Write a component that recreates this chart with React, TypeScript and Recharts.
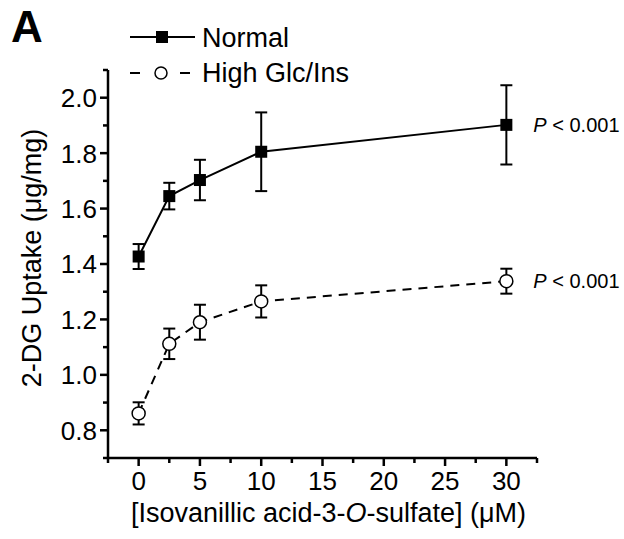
import React from 'react';
import { ComposedChart, Line, XAxis, YAxis, ErrorBar } from 'recharts';

// 2-DG uptake vs concentration
const concentrations = [0, 2.5, 5, 10, 30];
const normalUptake = [1.427, 1.645, 1.703, 1.805, 1.902];
const normalErr = [0.045, 0.048, 0.073, 0.142, 0.143];
const highUptake = [0.861, 1.112, 1.19, 1.265, 1.338];
const highErr = [0.04, 0.055, 0.063, 0.058, 0.045];

const seriesNames = ['Normal', 'High Glc/Ins'];
const pValues = ['< 0.001', '< 0.001'];

const xTicks = [-2.5, 0, 2.5, 5, 7.5, 10, 12.5, 15, 17.5, 20, 22.5, 25, 27.5, 30, 32.5];
const yTicks = [0.7, 0.8, 0.9, 1.0, 1.1, 1.2, 1.3, 1.4, 1.5, 1.6, 1.7, 1.8, 1.9, 2.0, 2.1];
const xDomain = [-2.5, 32.5];
const yDomain = [0.7, 2.1];

const data = concentrations.map((c, i) => ({
  x: c,
  normal: normalUptake[i],
  normalErr: normalErr[i],
  high: highUptake[i],
  highErr: highErr[i],
}));

const FONT = '"Liberation Sans", Arial, sans-serif';

const YTick = ({ x, y, payload }: any) => {
  const v = payload.value;
  const major = Math.round(v * 10) % 2 === 0;
  return (
    <g>
      <line x1={x - (major ? 8 : 5)} x2={x} y1={y} y2={y} stroke="#000" strokeWidth={2.5} />
      {major && (
        <text x={x - 11} y={y} dy="0.36em" textAnchor="end" fontSize={26} fontFamily={FONT} fill="#000">
          {v.toFixed(1)}
        </text>
      )}
    </g>
  );
};

const XTick = ({ x, y, payload }: any) => {
  const v = payload.value;
  const major = v % 5 === 0;
  return (
    <g>
      <line x1={x} x2={x} y1={y} y2={y + (major ? 8 : 5)} stroke="#000" strokeWidth={2.5} />
      {major && (
        <text x={x} y={y + 32} textAnchor="middle" fontSize={26} fontFamily={FONT} fill="#000">
          {v}
        </text>
      )}
    </g>
  );
};

const YTitle = ({ viewBox }: any) => {
  const cx = viewBox.x - 7;
  const cy = viewBox.y + viewBox.height / 2 - 6;
  return (
    <text x={cx} y={cy} transform={`rotate(-90 ${cx} ${cy})`} textAnchor="middle" fontSize={27} fontFamily={FONT} fill="#000">
      2-DG Uptake (μg/mg)
    </text>
  );
};

const XTitle = ({ viewBox }: any) => (
  <text x={viewBox.x + viewBox.width / 2 + 6} y={viewBox.y + 64} textAnchor="middle" fontSize={27} fontFamily={FONT} fill="#000">
    [Isovanillic acid-3-<tspan fontStyle="italic">O</tspan>-sulfate] (μM)
  </text>
);

const SquareDot = (props: any) => (
  <rect key={`sq-${props.index}`} x={props.cx - 6} y={props.cy - 6} width={12} height={12} fill="#000" />
);

const CircleDot = (props: any) => (
  <circle key={`ci-${props.index}`} cx={props.cx} cy={props.cy} r={6.5} fill="#fff" stroke="#000" strokeWidth={1.5} />
);

const makePLabel = (which: number) => (props: any) => {
  if (props.index !== concentrations.length - 1) return null;
  return (
    <text key={`p-${which}`} x={props.x + 27} y={props.y + 7} fontSize={20} fontFamily={FONT} fill="#000">
      <tspan fontStyle="italic">P</tspan> {pValues[which]}
    </text>
  );
};

export default function App() {
  return (
    <div style={{ position: 'absolute', left: 0, top: 0, width: 624, height: 539, background: '#fff' }}>
      <ComposedChart width={624} height={539} data={data} margin={{ top: 70, right: 87, left: 48, bottom: 10 }}>
        <XAxis
          dataKey="x"
          type="number"
          domain={xDomain}
          ticks={xTicks}
          interval={0}
          tickSize={0}
          tickMargin={0}
          tickLine={false}
          tick={<XTick />}
          height={71}
          stroke="#000"
          axisLine={{ stroke: '#000', strokeWidth: 2.5 }}
          label={<XTitle />}
        />
        <YAxis
          type="number"
          domain={yDomain}
          ticks={yTicks}
          interval={0}
          tickSize={0}
          tickMargin={0}
          tickLine={false}
          tick={<YTick />}
          width={60}
          stroke="#000"
          axisLine={{ stroke: '#000', strokeWidth: 2.5 }}
          label={<YTitle />}
        />
        <Line
          dataKey="normal"
          stroke="#000"
          strokeWidth={2}
          dot={SquareDot}
          activeDot={false}
          isAnimationActive={false}
          label={makePLabel(0)}
        >
          <ErrorBar dataKey="normalErr" width={6} stroke="#000" strokeWidth={2} />
        </Line>
        <Line
          dataKey="high"
          stroke="#000"
          strokeWidth={2}
          strokeDasharray="9 7"
          dot={CircleDot}
          activeDot={false}
          isAnimationActive={false}
          label={makePLabel(1)}
        >
          <ErrorBar dataKey="highErr" width={6} stroke="#000" strokeWidth={2} />
        </Line>
      </ComposedChart>
      <svg width={624} height={100} style={{ position: 'absolute', left: 0, top: 0, pointerEvents: 'none' }}>
        <text x={11} y={42} fontSize={44} fontWeight="bold" fontFamily={FONT} fill="#000">A</text>
        <line x1={130} x2={195} y1={37} y2={37} stroke="#000" strokeWidth={2} />
        <rect x={156} y={31} width={12} height={12} fill="#000" />
        <text x={202} y={47} fontSize={27} fontFamily={FONT} fill="#000">{seriesNames[0]}</text>
        <line x1={130} x2={195} y1={73} y2={73} stroke="#000" strokeWidth={2} strokeDasharray="10 40" />
        <circle cx={161} cy={73} r={6} fill="#fff" stroke="#000" strokeWidth={1.5} />
        <text x={202} y={82} fontSize={27} fontFamily={FONT} fill="#000">{seriesNames[1]}</text>
      </svg>
    </div>
  );
}
